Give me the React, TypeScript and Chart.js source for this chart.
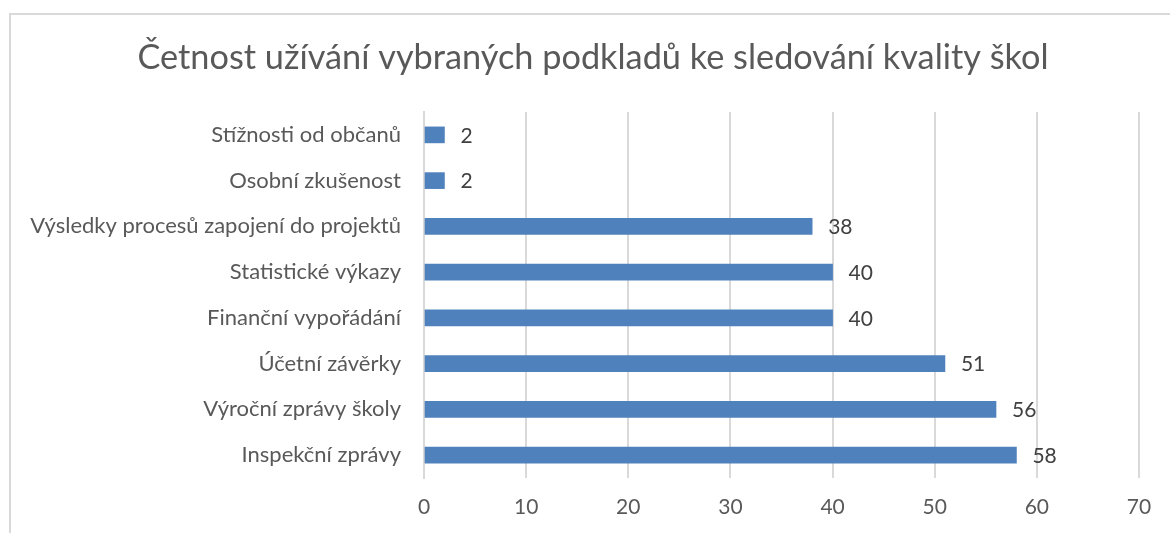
import React, { useEffect, useRef } from "react";
import { Chart, registerables } from "chart.js";

Chart.register(...registerables);

const titleText = "Četnost užívání vybraných podkladů ke sledování kvality škol";
const categories = [
  "Stížnosti od občanů",
  "Osobní zkušenost",
  "Výsledky procesů zapojení do projektů",
  "Statistické výkazy",
  "Finanční vypořádání",
  "Účetní závěrky",
  "Výroční zprávy školy",
  "Inspekční zprávy",
];
const values = [2, 2, 38, 40, 40, 51, 56, 58];
const xMin = 0;
const xMax = 70;
const xStep = 10;

const FONT = "Lato, sans-serif";

const dataLabels = {
  id: "dataLabels",
  afterDatasetsDraw(chart: any) {
    const ctx = chart.ctx;
    const meta = chart.getDatasetMeta(0);
    ctx.save();
    ctx.font = `21px ${FONT}`;
    ctx.fillStyle = "#404040";
    ctx.textAlign = "left";
    ctx.textBaseline = "middle";
    meta.data.forEach((el: any, i: number) => {
      ctx.fillText(String(values[i]), el.x + 16, el.y + 1);
    });
    ctx.restore();
  },
};

const chartTitle = {
  id: "chartTitle",
  afterDraw(chart: any) {
    const ctx = chart.ctx;
    ctx.save();
    ctx.font = `34.3px ${FONT}`;
    ctx.fillStyle = "#595959";
    ctx.textAlign = "center";
    ctx.textBaseline = "alphabetic";
    ctx.fillText(titleText, 593, 69);
    ctx.restore();
  },
};

export default function App() {
  const ref = useRef<HTMLCanvasElement>(null);
  useEffect(() => {
    const chart = new Chart(ref.current as HTMLCanvasElement, {
      type: "bar",
      data: {
        labels: categories,
        datasets: [
          {
            data: values,
            backgroundColor: "#4f81bd",
            barThickness: 16,
          },
        ],
      },
      options: {
        indexAxis: "y",
        animation: false,
        responsive: false,
        maintainAspectRatio: false,
        layout: { padding: { left: 0, right: 31, top: 112, bottom: 0 } },
        plugins: {
          legend: { display: false },
          tooltip: { enabled: false },
          title: { display: false },
        },
        scales: {
          x: {
            min: xMin,
            max: xMax,
            ticks: {
              stepSize: xStep,
              color: "#595959",
              font: { family: FONT, size: 21 },
              padding: 17,
            },
            grid: { color: "#d9d9d9", lineWidth: 2, drawTicks: false },
            border: { display: false },
            afterFit(scale: any) {
              scale.height = 55;
            },
          },
          y: {
            ticks: {
              color: "#595959",
              font: { family: FONT, size: 22 },
              padding: 23,
            },
            grid: { display: false, drawTicks: false },
            border: { display: true, color: "#d9d9d9", width: 2 },
            afterFit(scale: any) {
              scale.width = 424;
            },
          },
        },
      },
      plugins: [dataLabels, chartTitle],
    });
    return () => chart.destroy();
  }, []);
  return (
    <div
      style={{
        position: "fixed",
        left: 0,
        top: 0,
        width: 1170,
        height: 533,
        background: "#fff",
        overflow: "hidden",
      }}
    >
      <div
        style={{
          position: "absolute",
          left: 9,
          top: 13,
          width: 1200,
          height: 600,
          borderLeft: "2px solid #d9d9d9",
          borderTop: "2px solid #d9d9d9",
        }}
      />
      <canvas
        ref={ref}
        width={1170}
        height={533}
        style={{ position: "absolute", left: 0, top: 0 }}
      />
    </div>
  );
}
